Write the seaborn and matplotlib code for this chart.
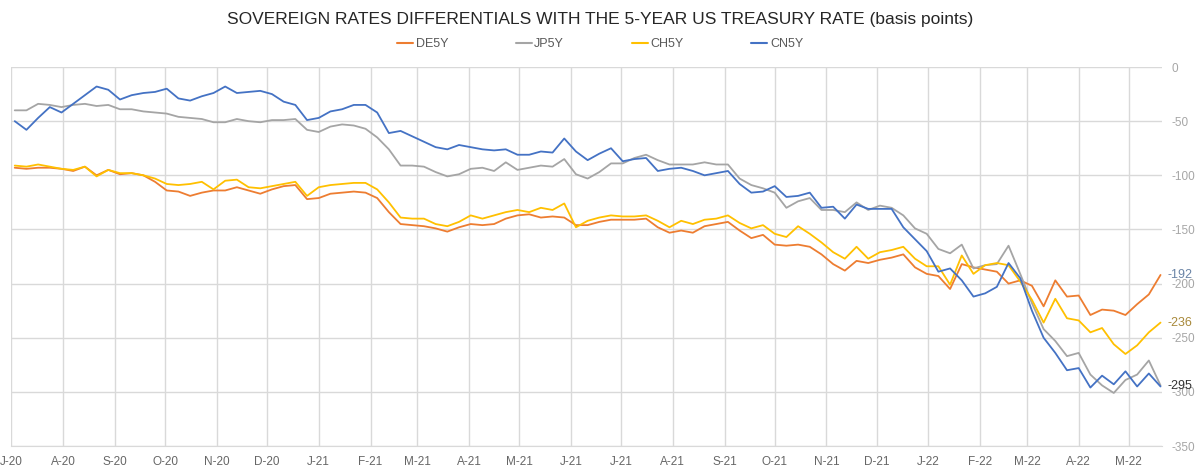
import pandas as pd
import seaborn as sns
import matplotlib.pyplot as plt
import matplotlib.dates as mdates

# weekly readings (Fridays), basis points vs 5Y UST
dates = pd.date_range("2020-07-03", periods=99, freq="W-FRI")

de5y = [-93, -94, -93, -93, -94, -96, -92, -100, -95, -99, -98, -100, -106, -114, -115, -119, -116, -114, -114, -111,
        -114, -117, -113, -110, -109, -122, -121, -117, -116, -115, -116, -121, -134, -145, -146, -147, -149, -152, -148, -145,
        -146, -145, -140, -137, -136, -139, -138, -139, -146, -146, -143, -141, -141, -141, -140, -148, -153, -151, -153,
        -147, -145, -143, -151, -158, -155, -164, -165, -164, -166, -173, -182, -188, -179, -181, -178, -176, -173, -185, -191,
        -193, -205, -182, -185, -187, -189, -200, -197, -202, -221, -197, -212, -211, -229, -224, -225, -229, -219, -210, -192]

jp5y = [-40, -40, -34, -35, -37, -35, -34, -36, -35, -39, -39, -41, -42, -43, -46, -47, -48, -51, -51, -48,
        -50, -51, -49, -49, -48, -58, -60, -55, -53, -54, -57, -65, -76, -91, -91, -92, -97, -101, -99, -94,
        -93, -96, -88, -95, -93, -91, -92, -85, -99, -103, -97, -89, -89, -84, -81, -86, -90, -90, -90,
        -88, -90, -90, -103, -109, -112, -116, -130, -124, -121, -132, -132, -134, -125, -132, -128, -130, -137, -149, -154,
        -168, -172, -164, -186, -183, -182, -165, -191, -218, -242, -253, -267, -264, -284, -294, -301, -289, -284, -271, -294]

ch5y = [-91, -92, -90, -92, -94, -95, -92, -101, -95, -98, -98, -100, -103, -108, -109, -108, -106, -113, -105, -104,
        -111, -112, -110, -108, -106, -119, -111, -109, -108, -107, -107, -113, -125, -139, -140, -140, -145, -147, -143, -137,
        -140, -137, -134, -132, -134, -130, -132, -126, -148, -142, -139, -137, -138, -138, -137, -142, -148, -142, -145,
        -141, -140, -137, -144, -149, -146, -154, -157, -147, -154, -162, -171, -177, -166, -177, -171, -169, -166, -177, -184,
        -184, -201, -174, -191, -183, -181, -183, -198, -215, -236, -214, -232, -234, -245, -241, -256, -265, -257, -245, -236]

cn5y = [-50, -58, -47, -37, -42, -34, -26, -18, -21, -30, -26, -24, -23, -20, -29, -31, -27, -24, -18, -24,
        -23, -22, -25, -32, -35, -49, -47, -41, -39, -35, -35, -42, -61, -59, -64, -69, -74, -76, -72, -74,
        -76, -77, -76, -81, -81, -78, -79, -66, -78, -86, -80, -75, -87, -85, -84, -96, -94, -93, -96,
        -100, -98, -96, -108, -116, -115, -110, -120, -119, -116, -130, -129, -140, -127, -131, -131, -131, -148, -159, -170,
        -189, -186, -197, -212, -209, -203, -181, -195, -225, -250, -264, -280, -278, -296, -285, -293, -281, -295, -283, -295]

series_names = ["DE5Y", "JP5Y", "CH5Y", "CN5Y"]
colors = ["#ED7D31", "#A5A5A5", "#FFC000", "#4472C4"]
end_labels = {"DE5Y": ("-192", "#6a84a6"), "CH5Y": ("-236", "#a8893a"), "CN5Y": ("-295", "#333333")}

df = pd.DataFrame({"date": dates, "DE5Y": de5y, "JP5Y": jp5y, "CH5Y": ch5y, "CN5Y": cn5y})
long = df.melt(id_vars="date", var_name="series", value_name="bp")

sns.set_style("white")
plt.rcParams["font.family"] = ["Liberation Sans", "DejaVu Sans"]
plt.rcParams["axes.unicode_minus"] = False

fig = plt.figure(figsize=(12, 4.72), dpi=100)
ax = fig.add_axes([0.0095, 0.055, 0.959, 0.803])

sns.lineplot(data=long, x="date", y="bp", hue="series", hue_order=series_names,
             palette=colors, linewidth=1.3, ax=ax, legend=False)

ax.set_xlim(pd.Timestamp("2020-07-01"), pd.Timestamp("2022-05-21"))
ax.set_ylim(-350, 0)
ax.set_yticks(range(-350, 1, 50))
ax.yaxis.tick_right()
ax.xaxis.set_major_locator(mdates.MonthLocator())
ax.xaxis.set_major_formatter(plt.FuncFormatter(
    lambda v, p: mdates.num2date(v).strftime("%b")[0] + "-" + mdates.num2date(v).strftime("%y")))
ax.grid(True, color="#d9d9d9", linewidth=1)
ax.tick_params(axis="x", length=0, pad=7, labelsize=8.5, labelcolor="#666666")
ax.tick_params(axis="y", length=0, pad=7, labelsize=8.5, labelcolor="#a6a6a6")
ax.set_xlabel("")
ax.set_ylabel("")
for s in ["top", "left", "right"]:
    ax.spines[s].set_visible(False)
ax.spines["bottom"].set_color("#d9d9d9")

# value labels at the end of lines
for name, (txt, col) in end_labels.items():
    ax.text(dates[-1] + pd.Timedelta(days=4), df[name].iloc[-1], txt, color=col,
            fontsize=9, va="center", ha="left", clip_on=False)

handles = [plt.Line2D([], [], color=c, linewidth=1.5) for c in colors]
fig.legend(handles, series_names, loc="center", bbox_to_anchor=(0.5, 0.907), ncol=4,
           frameon=False, fontsize=9, handlelength=1.3, handletextpad=0.2, columnspacing=5.4,
           labelcolor="#595959")
fig.suptitle("SOVEREIGN RATES DIFFERENTIALS WITH THE 5-YEAR US TREASURY RATE (basis points)",
             y=0.975, fontsize=12.5, color="#262626")

plt.savefig("out.png", dpi=100)
